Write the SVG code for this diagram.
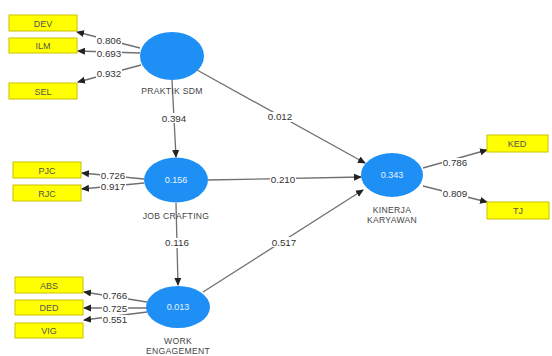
<svg xmlns="http://www.w3.org/2000/svg" width="552" height="356" viewBox="0 0 552 356">
<defs>
<marker id="ah" markerWidth="8" markerHeight="8" refX="7" refY="4" orient="auto" markerUnits="userSpaceOnUse">
<path d="M0,0.5 L8,4 L0,7.5 Z" fill="#222"/>
</marker>
<style>
.ind rect{fill:#ffff00;stroke:#c9c200;stroke-width:1}
.ind text{font-family:"Liberation Sans",Arial,sans-serif;font-size:9px;fill:#555;text-anchor:middle}
.lat ellipse{fill:#1e90f5}
.lat text.v{font-family:"Liberation Sans",Arial,sans-serif;font-size:9px;fill:#e8f2ff;text-anchor:middle}
.lat text.n{font-family:"Liberation Sans",Arial,sans-serif;font-size:8.6px;letter-spacing:0.3px;fill:#444;text-anchor:middle}
.con line{stroke:#707070;stroke-width:1.3;marker-end:url(#ah)}
.con text{font-family:"Liberation Sans",Arial,sans-serif;font-size:9.8px;fill:#333;text-anchor:middle}
.con rect{fill:#fff}
</style>
</defs>
<rect width="552" height="356" fill="#fff"/>

<g id="connectors" class="con">
<line x1="140" y1="48" x2="77" y2="32"/>
<line x1="140" y1="53" x2="78" y2="51"/>
<line x1="141" y1="65" x2="78" y2="82"/>
<line x1="172" y1="80" x2="176" y2="157"/>
<line x1="197" y1="70" x2="365" y2="163"/>
<line x1="144" y1="179" x2="82" y2="173"/>
<line x1="144" y1="183" x2="82" y2="189"/>
<line x1="208" y1="180" x2="361" y2="177"/>
<line x1="176" y1="203" x2="178" y2="285"/>
<line x1="147" y1="302" x2="84" y2="292"/>
<line x1="147" y1="308" x2="84" y2="308"/>
<line x1="147" y1="312" x2="84" y2="320"/>
<line x1="203" y1="292" x2="363" y2="190"/>
<line x1="423" y1="168" x2="487" y2="150"/>
<line x1="423" y1="186" x2="487" y2="202"/>
<rect x="96" y="36" width="26" height="9"/>
<text x="109" y="44">0.806</text>
<rect x="96" y="49" width="26" height="9"/>
<text x="109" y="57">0.693</text>
<rect x="96" y="69" width="26" height="9"/>
<text x="109" y="77">0.932</text>
<rect x="161" y="113" width="26" height="10"/>
<text x="174" y="121.5">0.394</text>
<rect x="267" y="112" width="26" height="10"/>
<text x="280" y="120">0.012</text>
<rect x="100" y="171" width="26" height="9"/>
<text x="113" y="179">0.726</text>
<rect x="100" y="182" width="26" height="9"/>
<text x="113" y="190">0.917</text>
<rect x="270" y="175" width="26" height="10"/>
<text x="283" y="183">0.210</text>
<rect x="164" y="238" width="26" height="10"/>
<text x="177" y="246">0.116</text>
<rect x="271" y="237" width="26" height="10"/>
<text x="284" y="245.5">0.517</text>
<rect x="102" y="291" width="26" height="9"/>
<text x="115" y="299">0.766</text>
<rect x="102" y="304" width="26" height="9"/>
<text x="115" y="311.5">0.725</text>
<rect x="102" y="315" width="26" height="9"/>
<text x="115" y="323">0.551</text>
<rect x="442" y="158" width="26" height="9"/>
<text x="455" y="166">0.786</text>
<rect x="442" y="189" width="26" height="9"/>
<text x="455" y="197">0.809</text>
</g>

<g id="DEV" class="ind"><rect x="9" y="15" width="68" height="16"/><text x="43" y="26.5">DEV</text></g>
<g id="ILM" class="ind"><rect x="9" y="38" width="68" height="15"/><text x="43" y="49">ILM</text></g>
<g id="SEL" class="ind"><rect x="9" y="83" width="68" height="16"/><text x="43" y="94.5">SEL</text></g>
<g id="PJC" class="ind"><rect x="13" y="162" width="68" height="16"/><text x="47" y="173.5">PJC</text></g>
<g id="RJC" class="ind"><rect x="13" y="185" width="68" height="16"/><text x="47" y="196.5">RJC</text></g>
<g id="ABS" class="ind"><rect x="15" y="277" width="68" height="16"/><text x="49" y="288.5">ABS</text></g>
<g id="DED" class="ind"><rect x="15" y="300" width="68" height="15"/><text x="49" y="311">DED</text></g>
<g id="VIG" class="ind"><rect x="15" y="323" width="68" height="15"/><text x="49" y="334">VIG</text></g>
<g id="KED" class="ind"><rect x="487" y="135" width="61" height="17"/><text x="517" y="147">KED</text></g>
<g id="TJ" class="ind"><rect x="487" y="202" width="62" height="17"/><text x="518" y="214">TJ</text></g>

<g id="PRAKTIK_SDM" class="lat"><ellipse cx="172" cy="56" rx="32" ry="24"/><text class="n" x="172" y="94">PRAKTIK SDM</text></g>
<g id="JOB_CRAFTING" class="lat"><ellipse cx="176" cy="180" rx="32" ry="22.5"/><text class="v" x="176" y="183">0.156</text><text class="n" x="176" y="219">JOB CRAFTING</text></g>
<g id="WORK_ENGAGEMENT" class="lat"><ellipse cx="178" cy="307" rx="32" ry="21"/><text class="v" x="178" y="310">0.013</text><text class="n" x="178" y="343.5">WORK</text><text class="n" x="178" y="353.5">ENGAGEMENT</text></g>
<g id="KINERJA_KARYAWAN" class="lat"><ellipse cx="392" cy="175" rx="31" ry="22"/><text class="v" x="392" y="178">0.343</text><text class="n" x="392" y="213">KINERJA</text><text class="n" x="392" y="223">KARYAWAN</text></g>
</svg>
